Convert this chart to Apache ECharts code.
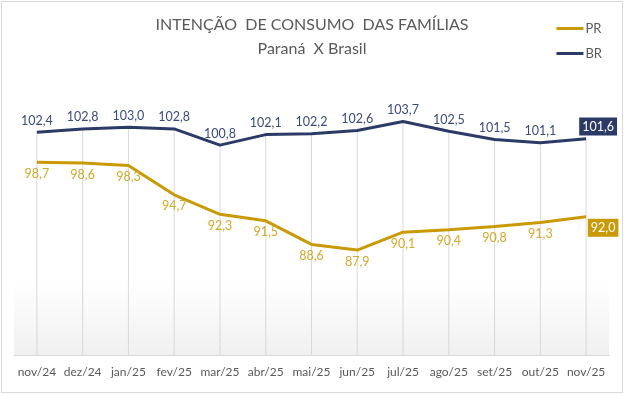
<!DOCTYPE html>
<html>
<head>
<meta charset="utf-8">
<script src="https://cdn.jsdelivr.net/npm/echarts@6/dist/echarts.min.js"></script>
<style>html,body{margin:0;padding:0;background:#fff}#c{width:624px;height:394px}</style>
</head>
<body>
<div id="c"></div>
<script>
const categories = ['nov/24','dez/24','jan/25','fev/25','mar/25','abr/25','mai/25','jun/25','jul/25','ago/25','set/25','out/25','nov/25'];
const prValues = [98.7, 98.6, 98.3, 94.7, 92.3, 91.5, 88.6, 87.9, 90.1, 90.4, 90.8, 91.3, 92.0];
const brValues = [102.4, 102.8, 103.0, 102.8, 100.8, 102.1, 102.2, 102.6, 103.7, 102.5, 101.5, 101.1, 101.6];

const PR_COLOR = '#C99A06';
const PR_LABEL = '#D4A82A';
const BR_COLOR = '#2B3A67';
const BR_LABEL = '#3A4A7C';
const FONT = 'Lato, "Open Sans", sans-serif';
const fmt = v => v.toFixed(1).replace('.', ',');

function lastLabel(values, color, pos, offset) {
  return values.map((v, i) => {
    if (i !== values.length - 1) return v;
    return {
      value: v,
      label: {
        position: pos, distance: 2, offset: offset,
        color: '#fff', backgroundColor: color, padding: [3, 3, 2, 3]
      }
    };
  });
}

const chart = echarts.init(document.getElementById('c'), null, {renderer: 'canvas'});
chart.setOption({
  animation: false,
  backgroundColor: '#fff',
  title: {
    text: 'INTENÇÃO  DE CONSUMO  DAS FAMÍLIAS',
    subtext: 'Paraná  X Brasil',
    left: 'center', top: 12, itemGap: 8,
    textStyle: {fontFamily: FONT, fontSize: 16, fontWeight: 'normal', color: '#595959'},
    subtextStyle: {fontFamily: FONT, fontSize: 16, color: '#595959'}
  },
  legend: {
    data: ['PR', 'BR'],
    orient: 'vertical', right: 17, top: 17, itemGap: 12,
    itemWidth: 27, itemHeight: 3,
    icon: 'rect',
    textStyle: {fontFamily: FONT, fontSize: 13, color: '#595959', padding: [0, 0, 0, -3]}
  },
  graphic: [
    {type: 'rect', shape: {x: 14, y: 280, width: 595, height: 75}, silent: true, z: -1,
     style: {fill: new echarts.graphic.LinearGradient(0, 0, 0, 1, [{offset: 0, color: 'rgba(242,242,242,0)'}, {offset: 1, color: 'rgba(240,240,240,1)'}])}},
    {type: 'rect', shape: {x: 1.5, y: 1.5, width: 621, height: 391}, silent: true, z: 100,
     style: {fill: 'none', stroke: '#D9D9D9', lineWidth: 1}}
  ],
  grid: {left: 14, right: 15, top: 111, bottom: 39},
  xAxis: {
    type: 'category', data: categories, boundaryGap: true,
    axisLine: {lineStyle: {color: '#D9D9D9'}},
    axisTick: {show: false},
    axisLabel: {fontFamily: FONT, fontSize: 12, color: '#595959', margin: 11, interval: 0}
  },
  yAxis: {
    type: 'value', min: 75, max: 105,
    show: false, splitLine: {show: false}
  },
  series: [
    {
      name: 'drop', type: 'bar', data: brValues, barWidth: 1, silent: true,
      itemStyle: {color: '#D9D9D9'}, z: 1, clip: true, legendHoverLink: false
    },
    {
      name: 'PR', type: 'line', data: lastLabel(prValues, PR_COLOR, 'bottom', [17, 0]),
      color: PR_COLOR, symbol: 'circle', symbolSize: 0.1, showSymbol: true,
      lineStyle: {width: 3, color: PR_COLOR}, z: 3,
      label: {show: true, position: 'bottom', distance: 5, color: PR_LABEL,
              fontFamily: FONT, fontSize: 12.5, formatter: p => fmt(p.value)}
    },
    {
      name: 'BR', type: 'line', data: lastLabel(brValues, BR_COLOR, 'top', [12, -1]),
      color: BR_COLOR, symbol: 'circle', symbolSize: 0.1, showSymbol: true,
      lineStyle: {width: 3, color: BR_COLOR}, z: 3,
      label: {show: true, position: 'top', distance: 5, color: BR_LABEL,
              fontFamily: FONT, fontSize: 12.5, formatter: p => fmt(p.value)}
    }
  ]
});
</script>
</body>
</html>
